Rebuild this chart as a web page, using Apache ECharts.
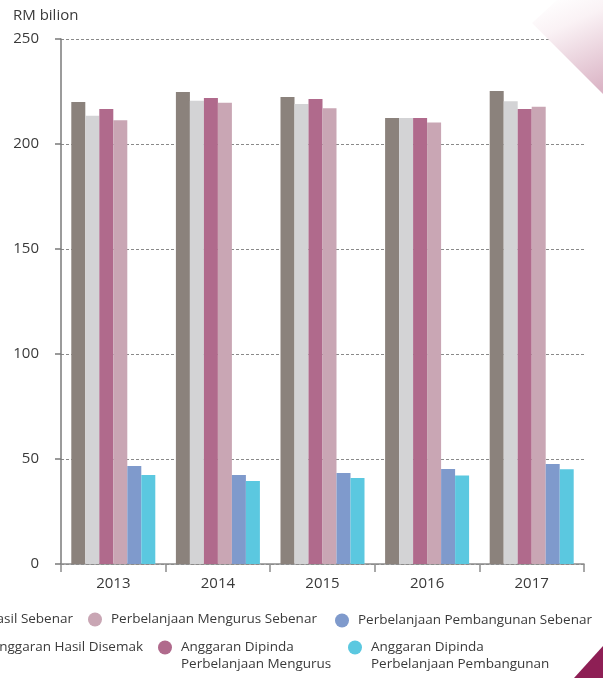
<!DOCTYPE html>
<html>
<head>
<meta charset="utf-8">
<script src="https://cdn.jsdelivr.net/npm/echarts@6/dist/echarts.min.js"></script>
<style>
  html, body { margin: 0; padding: 0; background: #fff; }
  #chart { width: 603px; height: 678px; }
</style>
</head>
<body>
<div id="chart"></div>
<script>
// Hasil dan perbelanjaan Kerajaan Persekutuan, 2013-2017 (RM bilion)
const years = ['2013', '2014', '2015', '2016', '2017'];

const anggaranHasilDisemak = [220.0, 224.8, 222.4, 212.4, 225.2];
const hasilSebenar = [213.4, 220.6, 219.1, 212.4, 220.4];
const anggaranDipindaMengurus = [216.7, 221.9, 221.4, 212.4, 216.7];
const mengurusSebenar = [211.3, 219.6, 217.0, 210.2, 217.7];
const pembangunanSebenar = [46.7, 42.4, 43.3, 45.2, 47.6];
const anggaranDipindaPembangunan = [42.4, 39.5, 40.9, 42.2, 45.1];

const yTicks = { min: 0, max: 250, interval: 50 };

const FONT = '"Open Sans", sans-serif';
const TEXT = '#3a3a3a';
const LEGEND_SIZE = 13.5;

const NAMES = {
  ahd: 'Anggaran Hasil Disemak',
  hs: 'Hasil Sebenar',
  adm: 'Anggaran Dipinda\nPerbelanjaan Mengurus',
  ms: 'Perbelanjaan Mengurus Sebenar',
  ps: 'Perbelanjaan Pembangunan Sebenar',
  adp: 'Anggaran Dipinda\nPerbelanjaan Pembangunan'
};

const COLORS = {
  ahd: '#8b827c',
  hs: '#d3d3d5',
  adm: '#b06a8c',
  ms: '#c9a6b4',
  ps: '#7f9acc',
  adp: '#5bc8e0'
};

// measure a legend label so the cut-off items can be right-aligned
const ctx = document.createElement('canvas').getContext('2d');
ctx.font = LEGEND_SIZE + 'px ' + FONT;
function textW(s) { return ctx.measureText(s).width; }

// one legend per entry; two-line entries get an empty leading line so the
// marker sits beside the first line of text
function legendItem(key, left, top, multi) {
  const item = {
    data: [NAMES[key]],
    left: left,
    top: top,
    icon: 'circle',
    itemWidth: 14,
    itemHeight: 14,
    itemGap: 0,
    padding: 0,
    selectedMode: false,
    textStyle: {
      fontFamily: FONT,
      fontSize: LEGEND_SIZE,
      color: TEXT,
      lineHeight: 17,
      padding: [0, 0, 0, 4]
    }
  };
  if (multi) item.formatter = function (n) { return '\n' + n; };
  return item;
}

function bar(key, values) {
  return {
    name: NAMES[key],
    type: 'bar',
    data: values,
    barWidth: 14,
    barGap: '0%',
    itemStyle: { color: COLORS[key] },
    emphasis: { disabled: true }
  };
}

const chart = echarts.init(document.getElementById('chart'), null, { renderer: 'canvas' });

chart.setOption({
  animation: false,
  backgroundColor: '#ffffff',
  title: {
    text: 'RM bilion',
    left: 8,
    top: 3,
    textStyle: { fontFamily: FONT, fontSize: 15, fontWeight: 'normal', color: TEXT }
  },
  grid: { left: 61, right: 19, top: 39, bottom: 114 },
  legend: [
    legendItem('hs', 73 - textW(NAMES.hs) - 23, 611, false),
    legendItem('ms', 88, 611, false),
    legendItem('ps', 335, 612, false),
    legendItem('ahd', 143 - textW(NAMES.ahd) - 23, 639, false),
    legendItem('adm', 158, 622, true),
    legendItem('adp', 348, 622, true)
  ],
  xAxis: {
    type: 'category',
    data: years,
    axisLine: { lineStyle: { color: '#8c8c8c', width: 1.5 } },
    axisTick: { show: true, length: 8, lineStyle: { color: '#8c8c8c', width: 1.5 } },
    axisLabel: { fontFamily: FONT, fontSize: 15, color: TEXT, margin: 12 }
  },
  yAxis: {
    type: 'value',
    min: yTicks.min,
    max: yTicks.max,
    interval: yTicks.interval,
    axisLine: { show: true, lineStyle: { color: '#7a7a7a', width: 1.5 } },
    axisTick: { show: true, length: 6, lineStyle: { color: '#7a7a7a', width: 1.5 } },
    axisLabel: { fontFamily: FONT, fontSize: 15, color: TEXT, margin: 22 },
    splitLine: { show: true, lineStyle: { color: '#8a8a8a', width: 1, type: [3, 2] } }
  },
  series: [
    bar('ahd', anggaranHasilDisemak),
    bar('hs', hasilSebenar),
    bar('adm', anggaranDipindaMengurus),
    bar('ms', mengurusSebenar),
    bar('ps', pembangunanSebenar),
    bar('adp', anggaranDipindaPembangunan)
  ],
  graphic: [
    {
      type: 'polygon',
      z: 100,
      silent: true,
      shape: { points: [[557, 0], [603, 0], [603, 94], [532, 23]] },
      style: {
        fill: new echarts.graphic.LinearGradient(0.2, 0, 0.8, 1, [
          { offset: 0, color: 'rgba(255,255,255,1)' },
          { offset: 0.3, color: '#faf2f5' },
          { offset: 1, color: '#dbb5c6' }
        ])
      }
    },
    {
      type: 'polygon',
      z: 100,
      silent: true,
      shape: { points: [[574, 678], [603, 646], [603, 678]] },
      style: { fill: '#8e1f55' }
    }
  ]
});
</script>
</body>
</html>
